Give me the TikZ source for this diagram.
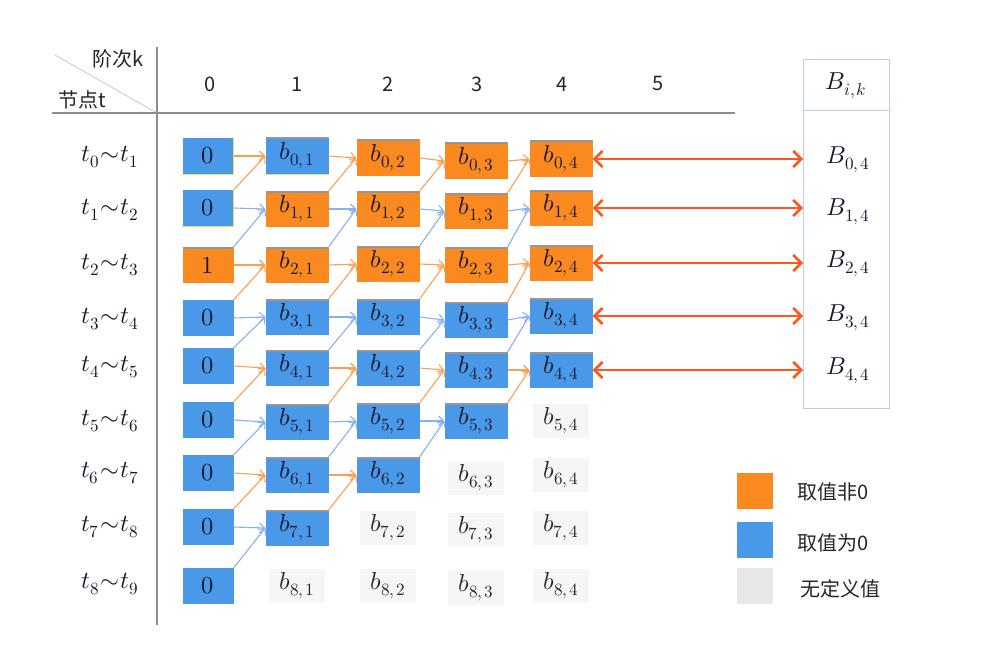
\documentclass[tikz,border=0pt]{standalone}
\usepackage{fontspec}
\usepackage{unicode-math}
\setmathfont{Latin Modern Math}
\newfontfamily\cjk{Noto Sans CJK SC}
\usetikzlibrary{arrows.meta}
\definecolor{cor}{RGB}{250,138,32}
\definecolor{cbl}{RGB}{74,152,232}
\definecolor{cgr}{RGB}{246,246,246}
\definecolor{lgr}{RGB}{232,232,232}
\definecolor{aor}{RGB}{250,160,85}
\definecolor{abl}{RGB}{135,178,236}
\definecolor{cred}{RGB}{255,88,30}
\definecolor{ctx}{RGB}{22,24,45}
\definecolor{bframe}{RGB}{185,205,235}
\definecolor{rule}{RGB}{140,140,140}
\definecolor{topedge}{RGB}{150,150,150}
\definecolor{yedge}{RGB}{235,225,80}
\newcommand\mysub[3]{$#1_{#2,\mkern2mu#3}$}
\begin{document}
\begin{tikzpicture}[x=1pt,y=-1pt,
  mfont/.style={font=\fontsize{24.5}{28}\selectfont},
  cell/.style={mfont,minimum width=63pt,minimum height=36pt,inner sep=0pt,text=ctx},
  zerocol/.style={minimum width=51pt},
  topline/.style={path picture={\draw[topedge,line width=3pt] (path picture bounding box.north west) -- (path picture bounding box.north east);}},
  orcell/.style={cell,fill=cor,topline},
  blcell/.style={cell,fill=cbl,topline},
  bzcell/.style={cell,fill=cbl},
  undefcell/.style={cell,fill=cgr,minimum width=56pt,minimum height=34pt,text=black!85},
  cjktext/.style={font=\cjk\fontsize{20}{24}\selectfont,text=black!85,inner sep=0pt},
  thinarrow/.style={line width=1.1pt,-{Straight Barb[length=5pt,width=10pt,line width=1.1pt]}},
  bigarrow/.style={cred,line width=2.6pt,{Straight Barb[length=8pt,width=16pt,line width=2.6pt]}-{Straight Barb[length=8pt,width=16pt,line width=2.6pt]}},
  legbox/.style={minimum width=36pt,minimum height=36pt,inner sep=0pt}
]
\useasboundingbox[fill=white] (0,0) rectangle (996,650);

% header
\draw[rule!60,line width=0.6pt] (55,55) -- (157,113);
\draw[rule,line width=1.3pt] (157,47) -- (157,625);
\draw[rule,line width=1.3pt] (52,113) -- (735,113);
\node[cjktext] (hk) at (118,59) {阶次k};
\node[cjktext] (ht) at (82,100) {节点t};
\foreach \k/\x in {0/210,1/297,2/388,3/477,4/562,5/658}
  \node[cjktext] (h\k) at (\x,84) {\k};

% row labels
\foreach \i/\y in {0/157,1/210,2/265,3/319,4/367,5/421,6/473,7/527,8/584} {
  \pgfmathtruncatemacro\ii{\i+1}
  \node[mfont,text=ctx] (r\i) at (110,\y) {$t_{\i}\mkern1mu{\sim}\mkern1mu t_{\ii}$};
}

% column 0
\foreach \i/\y/\s/\t in {0/156/bzcell/0,1/208/bzcell/0,2/265/orcell/1,3/318/bzcell/0,4/366/bzcell/0,5/420/bzcell/0,6/473/bzcell/0,7/527/bzcell/0,8/586/bzcell/0}
  \node[\s,zerocol] (c\i0) at (208,\y) {$\t$};
\draw[yedge,line width=1.2pt] (c00.north east) -- (c00.south east) -- (c00.south west);
\draw[yedge,line width=1.2pt] (c10.north east) -- (c10.south east) -- (c10.south west);
% column 1
\foreach \i/\y/\s in {0/156/blcell,1/209/orcell,2/265/orcell,3/317/blcell,4/368/blcell,5/422/blcell,6/475/blcell,7/528/blcell,8/586/undefcell}
  \node[\s] (c\i1) at (297,\y) {\mysub{b}{\i}{1}};
\draw[yedge,line width=1.2pt] (c01.south west) -- (c01.south east);
% column 2
\foreach \i/\y/\s in {0/158/orcell,1/209/orcell,2/264/orcell,3/317/blcell,4/368/blcell,5/421/blcell,6/475/blcell,7/528/undefcell,8/586/undefcell}
  \node[\s] (c\i2) at (388,\y) {\mysub{b}{\i}{2}};
% column 3
\foreach \i/\y/\s in {0/161/orcell,1/211/orcell,2/265/orcell,3/320/blcell,4/370/blcell,5/421/blcell,6/478/undefcell,7/530/undefcell,8/588/undefcell}
  \node[\s] (c\i3) at (476,\y) {\mysub{b}{\i}{3}};
% column 4
\foreach \i/\y/\s in {0/159/orcell,1/208/orcell,2/263/orcell,3/316/blcell,4/370/blcell,5/421/undefcell,6/475/undefcell,7/528/undefcell,8/586/undefcell}
  \node[\s] (c\i4) at (561,\y) {\mysub{b}{\i}{4}};

% thin arrows
\foreach \k/\kk in {1/0,2/1,3/2,4/3} {
  \pgfmathtruncatemacro\m{8-\k}
  \foreach \i in {0,...,\m} {
    \pgfmathtruncatemacro\ii{\i+1}
    \pgfmathtruncatemacro\pp{mod(\i,2)}
    \ifnum\pp=0 \def\ac{aor}\else\def\ac{abl}\fi
    \draw[thinarrow,\ac] (c\i\kk.east) -- (c\i\k.west);
    \draw[thinarrow,\ac] (c\ii\kk.north east) -- (c\i\k.west);
  }
}

% B column
\draw[bframe,line width=1pt] (803,60) rectangle (889,408);
\draw[bframe,line width=1pt] (803,111) -- (889,111);
\coordinate (bleft) at (803,0);
\node[mfont,text=ctx] (bh) at (846,86) {\mysub{B}{i}{k}};
\foreach \i/\y in {0/160,1/212,2/264,3/318,4/371} {
  \node[mfont,text=ctx] (B\i) at (848,\y) {\mysub{B}{\i}{4}};
  \draw[bigarrow] (c\i4.east) -- (c\i4.east -| bleft);
}

% legend
\node[legbox,fill=cor] (l1) at (755,491) {};
\node[legbox,fill=cbl] (l2) at (755,540) {};
\node[legbox,fill=lgr] (l3) at (755,586) {};
\node[cjktext,anchor=west] (t1) at (797,492) {取值非0};
\node[cjktext,anchor=west] (t2) at (797,543) {取值为0};
\node[cjktext,anchor=west] (t3) at (800,589) {无定义值};
\end{tikzpicture}
\end{document}
